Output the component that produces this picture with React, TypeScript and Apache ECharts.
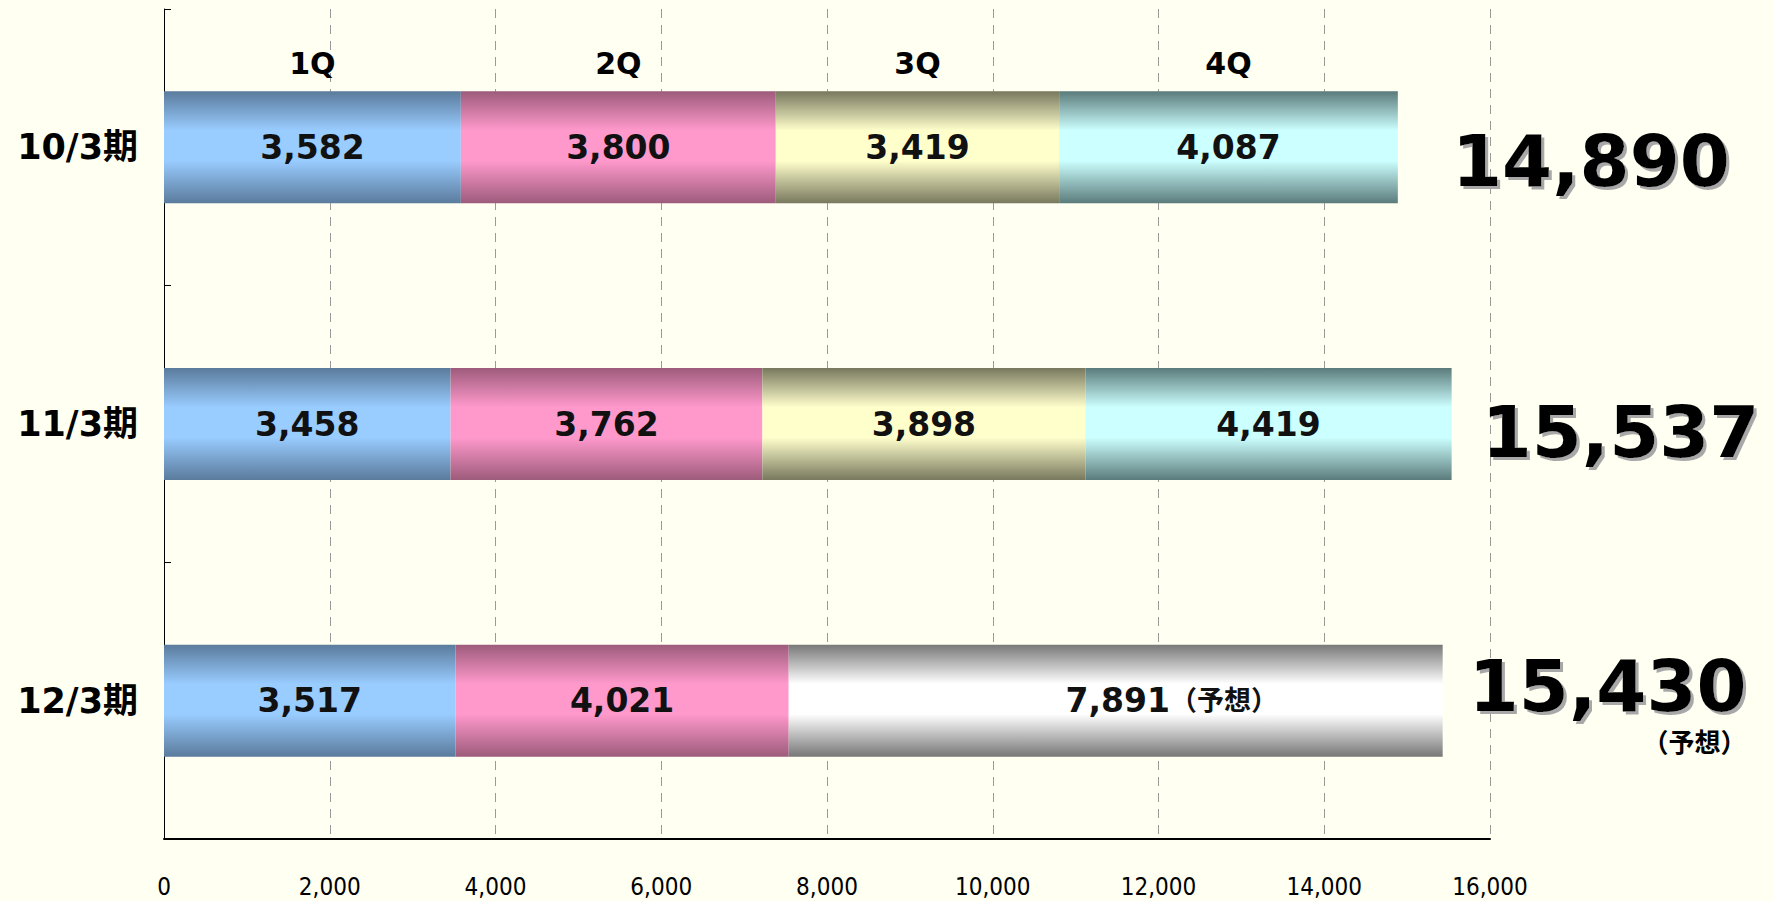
import React, { useEffect, useRef } from "react";
import * as echarts from "echarts";

const categories = ["10/3期", "11/3期", "12/3期"];
const quarterNames = ["1Q", "2Q", "3Q", "4Q"];
const q1 = [3582, 3458, 3517];
const q2 = [3800, 3762, 4021];
const q3: (number | null)[] = [3419, 3898, null];
const q4: (number | null)[] = [4087, 4419, null];
const forecast: (number | null)[] = [null, null, 7891];
const totals = [14890, 15537, 15430];
const forecastSuffix = "（予想）";
const xMin = 0;
const xMax = 16000;
const xInterval = 2000;

const fmt = (v: number) => v.toLocaleString("en-US");

const grad = (edge: string, mid: string) =>
  new echarts.graphic.LinearGradient(0, 0, 0, 1, [
    { offset: 0, color: edge },
    { offset: 0.35, color: mid },
    { offset: 0.62, color: mid },
    { offset: 1, color: edge },
  ]);

const FONT = "'DejaVu Sans', 'Noto Sans CJK JP', sans-serif";

export default function App() {
  const ref = useRef<HTMLDivElement>(null);
  useEffect(() => {
    if (!ref.current) return;
    const chart = echarts.init(ref.current, undefined, { renderer: "svg" });
    const quarters = [q1, q2, q3, q4];
    const colors = [
      grad("#5a7b9c", "#99ccff"),
      grad("#9d5b7b", "#ff99cc"),
      grad("#78785e", "#ffffcc"),
      grad("#5b7b7b", "#ccffff"),
    ];
    const valueLabel = {
      show: true,
      position: "inside",
      fontFamily: FONT,
      fontWeight: "bold",
      fontSize: 33,
      color: "#111",
      formatter: (p: any) => fmt(p.value),
    };
    const barSeries: any[] = quarters.map((d, i) => ({
      name: quarterNames[i],
      type: "bar",
      stack: "total",
      barWidth: 112,
      data: d,
      itemStyle: { color: colors[i] },
      label: valueLabel,
    }));
    barSeries.push({
      name: "予想",
      type: "bar",
      stack: "total",
      barWidth: 112,
      data: forecast,
      itemStyle: { color: grad("#777777", "#ffffff") },
      label: {
        show: true,
        position: "inside",
        offset: [56, 0],
        formatter: (p: any) => `{v|${fmt(p.value)}}{s|${forecastSuffix}}`,
        rich: {
          v: { fontFamily: FONT, fontWeight: "bold", fontSize: 33, color: "#111" },
          s: { fontFamily: FONT, fontWeight: "bold", fontSize: 27, color: "#111" },
        },
      },
    });

    // quarter name labels above the first bar, centred on each segment
    let cum = 0;
    const qLabelData = quarters.map((d, i) => {
      const v = d[0] as number;
      const c = cum + v / 2;
      cum += v;
      return { value: [c, 0], name: quarterNames[i] };
    });

    const totalOffsets = [
      [24, 14],
      [0, 8],
      [-4, 0],
    ];
    const shadow = {
      textShadowColor: "#a8a8a8",
      textShadowOffsetX: 3,
      textShadowOffsetY: 3,
      textShadowBlur: 1,
    };
    const totalData = totals.map((t, i) => ({
      value: [t, i],
      label: {
        offset: totalOffsets[i],
        formatter:
          forecast[i] != null
            ? `{t|${fmt(t)}}\n{s|${forecastSuffix}}`
            : `{t|${fmt(t)}}`,
      },
    }));

    chart.setOption({
      animation: false,
      backgroundColor: "#fffff2",
      grid: { left: 164, right: 284, top: 9, bottom: 62, containLabel: false },
      xAxis: {
        type: "value",
        min: xMin,
        max: xMax,
        interval: xInterval,
        axisLine: { show: true, lineStyle: { color: "#000", width: 2 } },
        axisTick: { show: false },
        axisLabel: {
          margin: 36,
          fontFamily: "'Liberation Sans Narrow', 'DejaVu Sans Condensed', sans-serif",
          fontSize: 24,
          color: "#000",
          formatter: (v: number) => fmt(v),
        },
        splitLine: {
          show: true,
          lineStyle: { color: "#9a9a9a", type: [9, 7], width: 1 },
        },
      },
      yAxis: {
        type: "category",
        inverse: true,
        data: categories,
        axisLine: { show: true, lineStyle: { color: "#000", width: 1 } },
        axisTick: { show: true, inside: true, length: 7, lineStyle: { color: "#000" } },
        axisLabel: {
          margin: 26,
          fontFamily: FONT,
          fontWeight: "bold",
          fontSize: 35,
          color: "#000",
        },
        splitLine: { show: false },
      },
      series: [
        ...barSeries,
        {
          name: "quarters",
          type: "scatter",
          symbolSize: 0,
          data: qLabelData,
          z: 5,
          itemStyle: { opacity: 1 },
          label: {
            show: true,
            position: "inside",
            offset: [0, -84],
            formatter: (p: any) => p.name,
            fontFamily: FONT,
            fontWeight: "bold",
            fontSize: 30,
            color: "#000",
            opacity: 1,
          },
        },
        {
          name: "totals",
          type: "scatter",
          symbolSize: 0,
          data: totalData,
          z: 5,
          itemStyle: { opacity: 1 },
          label: {
            show: true,
            position: "right",
            distance: 30,
            opacity: 1,
            rich: {
              t: {
                fontFamily: FONT,
                fontWeight: "bold",
                fontSize: 72,
                lineHeight: 84,
                color: "#000",
                ...shadow,
              },
              s: {
                fontFamily: FONT,
                fontWeight: "bold",
                fontSize: 26,
                lineHeight: 30,
                color: "#000",
                align: "right",
              },
            },
          },
        },
      ],
    });
    return () => chart.dispose();
  }, []);
  return (
    <div
      ref={ref}
      style={{ position: "fixed", left: 0, top: 0, width: 1774, height: 901 }}
    />
  );
}
